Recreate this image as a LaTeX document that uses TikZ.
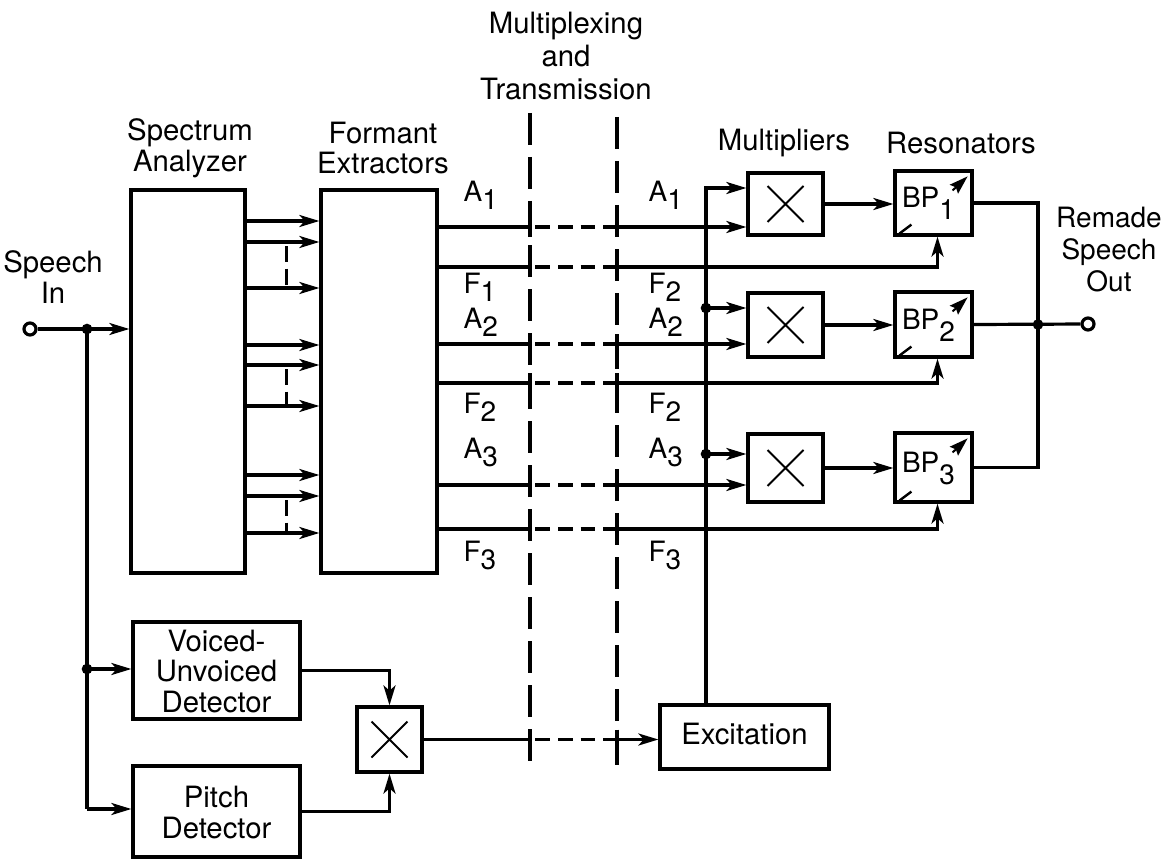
\documentclass[tikz,border=0pt]{standalone}
\usepackage{fontspec}
\setmainfont{TeX Gyre Heros}
\usetikzlibrary{arrows.meta,calc,fit}
\newcommand\sbx[2][6pt]{\lower#1\hbox{#2}}
\begin{document}
\begin{tikzpicture}[x=0.75pt,y=-0.75pt,line width=2.4pt,
  font=\fontsize{22}{23}\selectfont,
  box/.style={draw,rectangle,inner sep=0pt},
  xbox/.style={box,path picture={\draw[line width=1.5pt]
     ($(path picture bounding box.center)+(-18,-18)$) -- ++(36,36)
     ($(path picture bounding box.center)+(18,-18)$) -- ++(-36,36);}},
  arr/.style={-{Stealth[length=15pt,width=9pt,inset=4pt]}},
  hdash/.style={dash pattern=on 11pt off 6pt,dash phase=13pt},
  vdash/.style={dash pattern=on 24pt off 9pt},
  sdash/.style={dash pattern=on 12pt off 5pt,dash phase=14pt},
  txt/.style={align=center,inner sep=0pt},
  lab/.style={anchor=base west,inner sep=0pt,font=\fontsize{21}{22}\selectfont},
  port/.style={circle,draw,inner sep=0pt,minimum size=9pt}]
\useasboundingbox (0,0) rectangle (1171,863);

% boxes
\node[box, fit={(131,190) (245,573)}] (sa) {};
\node[box, fit={(321,190) (437,573)}] (fe) {};
\node[xbox, fit={(748,173) (823,235)}] (m1) {};
\node[xbox, fit={(748,293) (823,357)}] (m2) {};
\node[xbox, fit={(748,434) (823,502)}] (m3) {};
\node[box, fit={(895,171) (972,235)}] (r1) {};
\node[box, fit={(895,292) (972,357)}] (r2) {};
\node[box, fit={(895,433) (972,502)}] (r3) {};
\node[box, fit={(133,622) (300,719)}] (vuv) {};
\node[box, fit={(133,766) (300,857)}] (pd) {};
\node[xbox, fit={(357,707) (422,772)}] (mx) {};
\node[box, fit={(660,705) (829,769)}] (ex) {};

\node[txt] (vuvt) at ($(vuv.center)+(0,1)$) {Voiced-\\Unvoiced\\Detector};
\node[txt] (pdt) at ($(pd.center)+(0,1)$) {Pitch\\Detector};
\node[txt] (ext) at ($(ex.center)+(0,-3)$) {Excitation};

\node[port] (in) at (30,329) {};
\node[port] (out) at (1088,324) {};

% titles
\node[txt] (tin) at (53,277) {Speech\\In};
\node[txt] (tsa) at (190,148) {Spectrum\\Analyzer};
\node[txt] (tfe) at (383,148) {Formant\\Extractors};
\node[txt,font=\fontsize{22}{25}\selectfont] (tmt) at (566,56) {Multiplexing\\and\\Transmission};
\node[txt] (tmu) at (784,143) {Multipliers};
\node[txt] (trs) at (961,143) {Resonators};
\node[txt,font=\fontsize{21}{24}\selectfont] (tout) at (1109,250) {Remade\\Speech\\Out};

% input side
\coordinate (j1) at (87,329);
\coordinate (j2) at (87,669);
\coordinate (j3) at (87,809);
\draw (in) -- (j1);
\draw[arr] (j1) -- (sa.west |- j1);
\draw (j1) -- (j3);
\draw[arr] (j3) -- (pd.west |- j3);
\draw[arr] (j2) -- (vuv.west |- j2);
\fill (j1) circle (4pt);
\fill (j2) circle (4pt);

% analyzer -> extractors
\foreach \y [count=\i] in {221,242,288,345,365,406,475,496,533}{
  \coordinate (s\i) at (0,\y);
  \draw[arr] (sa.east |- s\i) -- (fe.west |- s\i);
}
\foreach \a/\b in {s2/s3,s5/s6,s8/s9}{
  \draw[sdash] ($(sa.east |- \a)+(40,0)$) -- ($(sa.east |- \b)+(40,0)$);
}

% transmission dashed boundaries
\draw[vdash] (530,113) -- (530,768);
\draw[vdash] (617,117) -- (617,768);

% extractor outputs
\foreach \y [count=\i] in {227,267,344,383,485,529}{
  \coordinate (o\i) at (530,\y);
  \coordinate (p\i) at (617,\y);
  \draw (fe.east |- o\i) -- (o\i);
  \draw[hdash] (o\i) -- (p\i);
  \draw ($(o\i)+(0,-10)$) -- ($(o\i)+(0,10)$);
  \draw ($(p\i)+(0,-10)$) -- ($(p\i)+(0,10)$);
}
\draw[arr] (p1) -- (m1.west |- p1);
\draw[arr] (p2) -| ($(r1.south)+(4,0)$);
\draw[arr] (p3) -- (m2.west |- p3);
\draw[arr] (p4) -| ($(r2.south)+(4,0)$);
\draw[arr] (p5) -- (m3.west |- p5);
\draw[arr] (p6) -| ($(r3.south)+(4,0)$);

% labels
\node[lab] (la1) at (462,201) {A\sbx{1}};
\node[lab] (lf1) at (462,293) {F\sbx{1}};
\node[lab] (la2) at (462,328) {A\sbx{2}};
\node[lab] (lf2) at (462,413) {F\sbx{2}};
\node[lab] (la3) at (462,458) {A\sbx{3}};
\node[lab] (lf3) at (462,561) {F\sbx{3}};
\node[lab] (ra1) at (647,201) {A\sbx{1}};
\node[lab] (rf1) at (647,293) {F\sbx{2}};
\node[lab] (ra2) at (647,328) {A\sbx{2}};
\node[lab] (rf2) at (647,413) {F\sbx{2}};
\node[lab] (ra3) at (647,458) {A\sbx{3}};
\node[lab] (rf3) at (647,561) {F\sbx{3}};

% excitation bus
\coordinate (b0) at (706,188);
\coordinate (b2) at (706,308);
\coordinate (b3) at (706,454);
\draw[arr] (ex.north -| b0) -- (b0) -- (m1.west |- b0);
\draw[arr] (b2) -- (m2.west |- b2);
\draw[arr] (b3) -- (m3.west |- b3);
\fill (b2) circle (4pt);
\fill (b3) circle (4pt);

% multipliers -> resonators
\draw[arr] (m1.east) -- (r1.west |- m1.east);
\draw[arr] (m2.east) -- (r2.west |- m2.east);
\draw[arr] (m3.east) -- (r3.west |- m3.east);

% resonator labels and tuning marks
\node[lab] (bp1) at ($(r1.west)+(7,5)$) {BP\sbx[9pt]{1}};
\node[lab] (bp2) at ($(r2.west)+(7,5)$) {BP\sbx[9pt]{2}};
\node[lab] (bp3) at ($(r3.west)+(7,5)$) {BP\sbx[9pt]{3}};
\foreach \r in {r1,r2,r3}{
  \draw[line width=1.8pt] ($(\r.south west)+(6,-3)$) -- ++(12,-9);
  \draw[-{Stealth[length=14pt,width=9pt,inset=2pt]},line width=1.5pt]
     ($(\r.north east)+(-21,21)$) -- ($(\r.north east)+(-6,7)$);
}

% resonator outputs
\coordinate (kx) at (1038,0);
\draw (r1.east) -- (r1.east -| kx) -- (r3.east -| kx) -- (r3.east);
\draw (r2.east) -- (out);
\fill (r2.east -| kx) circle (4pt);

% pitch path
\draw[arr] (vuv.east) -| (mx.north);
\draw[arr] (pd.east) -| (mx.south);
\coordinate (e1) at (mx.east -| o1);
\coordinate (e2) at (mx.east -| p1);
\draw (mx.east) -- (e1);
\draw[hdash] (e1) -- (e2);
\draw ($(e1)+(0,-10)$) -- ($(e1)+(0,10)$);
\draw ($(e2)+(0,-10)$) -- ($(e2)+(0,10)$);
\draw[arr] (e2) -- (ex.west |- e2);
\end{tikzpicture}
\end{document}
